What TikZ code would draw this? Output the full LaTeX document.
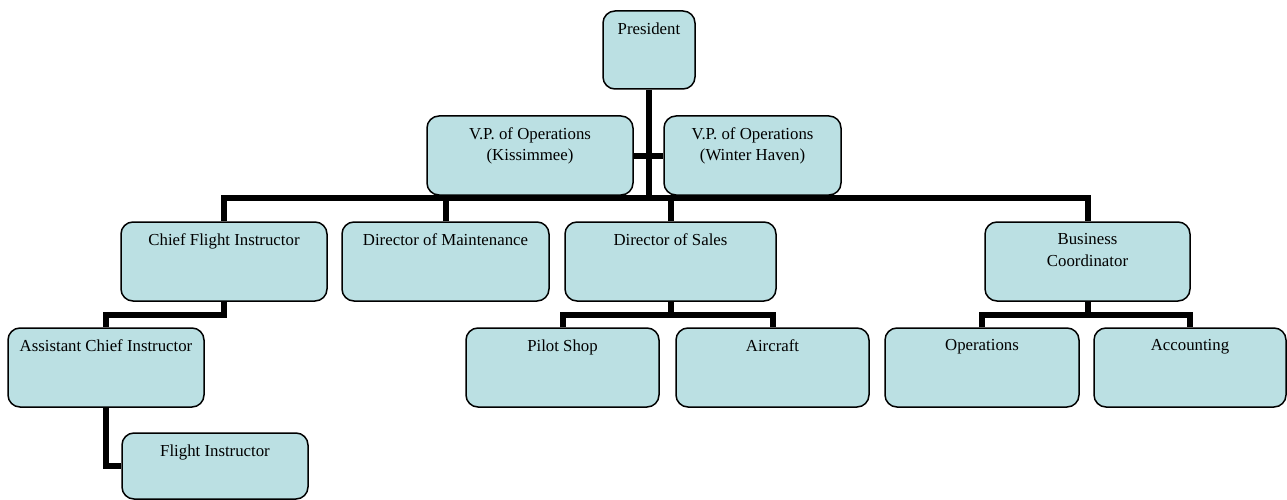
\documentclass[tikz,border=0pt]{standalone}
\usepackage{fontspec}
\setmainfont{Liberation Serif}
\definecolor{boxfill}{HTML}{BBE0E3}
\begin{document}
\begin{tikzpicture}[x=1pt,y=-1pt,
  orgbox/.style={draw=black,line width=1.5pt,fill=boxfill,rounded corners=12pt,inner sep=0pt},
  lbl/.style={anchor=north,align=center,inner sep=0pt,font=\fontsize{16.8}{21.5}\selectfont,yshift=-12pt},
  conn/.style={line width=6pt,line join=miter}]
\useasboundingbox (0,0) rectangle (1287,500);
\coordinate (bar) at (649,198);
\coordinate (j1) at (224,315);
\coordinate (j2) at (670.5,315);
\coordinate (j3) at (1087.5,315);
% boxes
\node[orgbox,minimum width=92pt,minimum height=78pt,label={[lbl]north:President}] (pres) at (649,50) {};
\node[orgbox,minimum width=206pt,minimum height=79pt,label={[lbl]north:V.P. of Operations\\(Kissimmee)}] (vpk) at (530,155.5) {};
\node[orgbox,minimum width=177pt,minimum height=79pt,label={[lbl]north:V.P. of Operations\\(Winter Haven)}] (vpw) at (752.5,155.5) {};
\node[orgbox,minimum width=206pt,minimum height=79pt,label={[lbl]north:Chief Flight Instructor}] (cfi) at (224,261.5) {};
\node[orgbox,minimum width=207pt,minimum height=79pt,label={[lbl]north:Director of Maintenance}] (dom) at (445.5,261.5) {};
\node[orgbox,minimum width=211pt,minimum height=79pt,label={[lbl]north:Director of Sales}] (dos) at (670.5,261.5) {};
\node[orgbox,minimum width=205pt,minimum height=79pt,label={[lbl]north:Business\\Coordinator}] (bc) at (1087.5,261.5) {};
\node[orgbox,minimum width=196pt,minimum height=79pt,label={[lbl]north:Assistant Chief Instructor}] (aci) at (106,367.5) {};
\node[orgbox,minimum width=193pt,minimum height=79pt,label={[lbl]north:Pilot Shop}] (ps) at (562.5,367.5) {};
\node[orgbox,minimum width=193pt,minimum height=79pt,label={[lbl]north:Aircraft}] (ac) at (772.5,367.5) {};
\node[orgbox,minimum width=194pt,minimum height=79pt,label={[lbl]north:Operations}] (ops) at (982,367.5) {};
\node[orgbox,minimum width=192pt,minimum height=79pt,label={[lbl]north:Accounting}] (acc) at (1190,367.5) {};
\node[orgbox,minimum width=186pt,minimum height=66pt,label={[lbl]north:Flight Instructor}] (fi) at (215,466) {};
% connectors
\draw[conn] (pres.south) -- (bar);
\draw[conn] (vpk.east) -- (vpw.west);
\draw[conn] (cfi.north) |- (bar) -| (bc.north);
\draw[conn] (dom.north) -- (dom.north |- bar);
\draw[conn] (dos.north) -- (dos.north |- bar);
\draw[conn] (cfi.south) -- (j1) -| (aci.north);
\draw[conn] (dos.south) -- (j2);
\draw[conn] (ps.north) |- (j2) -| (ac.north);
\draw[conn] (bc.south) -- (j3);
\draw[conn] (ops.north) |- (j3) -| (acc.north);
\draw[conn] (aci.south) |- (fi.west);
\end{tikzpicture}
\end{document}
